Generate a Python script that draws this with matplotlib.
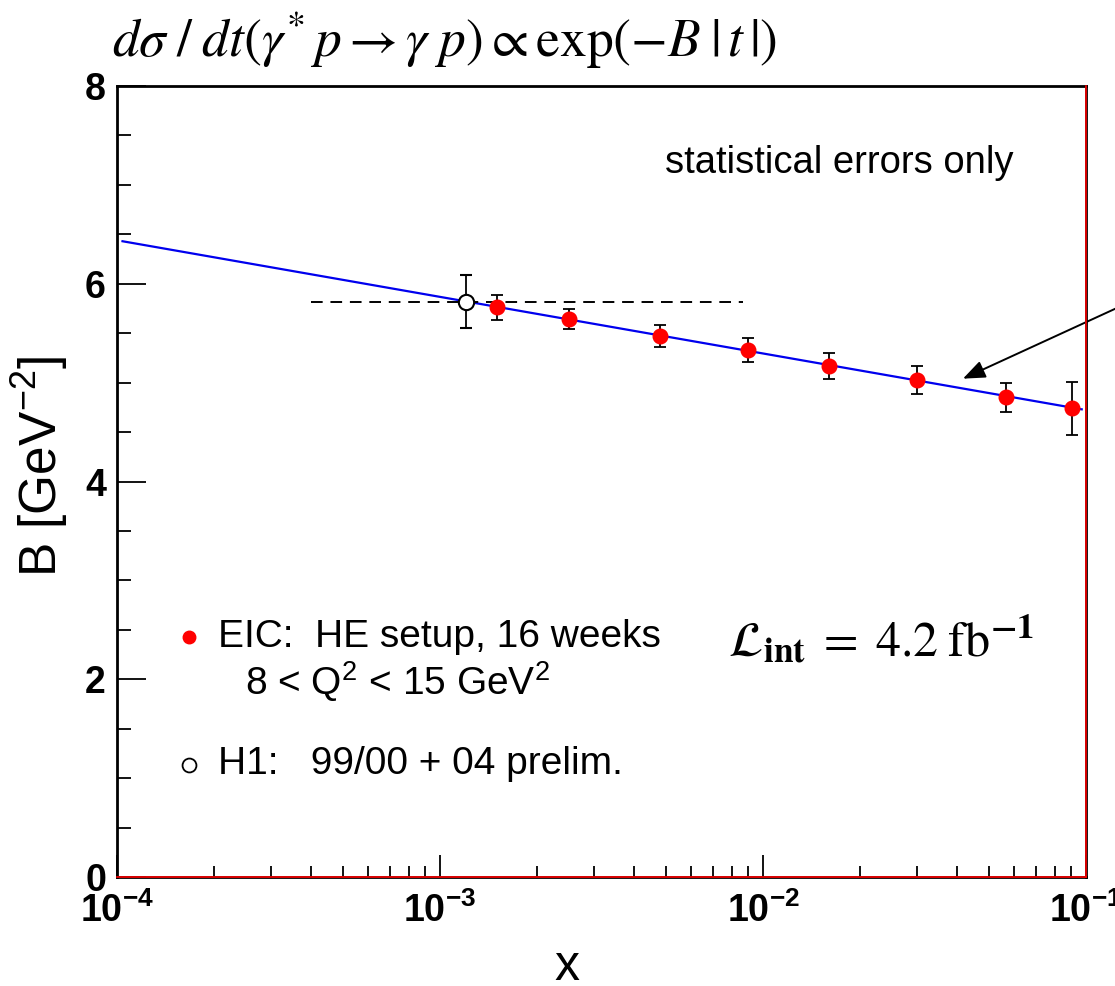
import matplotlib
matplotlib.use("Agg")
import matplotlib.pyplot as plt
from matplotlib.ticker import LogLocator, MultipleLocator, NullFormatter

# ---- data -----------------------------------------------------------------
eic_x = [1.5e-3, 2.5e-3, 4.8e-3, 9.0e-3, 1.6e-2, 3.0e-2, 5.65e-2, 9.05e-2]
eic_B = [5.76, 5.64, 5.47, 5.33, 5.17, 5.03, 4.85, 4.74]
eic_err = [0.13, 0.10, 0.11, 0.12, 0.13, 0.14, 0.15, 0.27]

h1_x = [1.2e-3]
h1_B = [5.82]
h1_err = [0.27]
h1_xrange = [4.0e-4, 8.7e-3]

fit_x = [1.04e-4, 9.7e-2]
fit_B = [6.43, 4.73]

arrow_tip = (4.16e-2, 5.04)

xtick_vals = [1e-4, 1e-3, 1e-2, 1e-1]
xtick_labels = [r"$\mathbf{10^{-4}}$", r"$\mathbf{10^{-3}}$",
                r"$\mathbf{10^{-2}}$", r"$\mathbf{10^{-1}}$"]
ytick_vals = [0, 2, 4, 6, 8]
ytick_labels = ["0", "2", "4", "6", "8"]

# ---- style ----------------------------------------------------------------
plt.rcParams["font.family"] = ["Liberation Sans", "DejaVu Sans"]
plt.rcParams["mathtext.fontset"] = "custom"
plt.rcParams["mathtext.rm"] = "Liberation Sans"
plt.rcParams["mathtext.it"] = "Liberation Sans:italic"
plt.rcParams["mathtext.bf"] = "Liberation Sans:bold"

W, H = 1115, 986
fig = plt.figure(figsize=(W / 100, H / 100), dpi=100)
ax = fig.add_axes([117 / W, 1 - 877 / H, (1086 - 117) / W, (877 - 86) / H])

ax.set_xscale("log")
ax.set_xlim(1e-4, 1e-1)
ax.set_ylim(0, 8)

# fit line
ax.plot(fit_x, fit_B, color="#0000ee", lw=1.6, zorder=2)

# H1 x-range
ax.plot(h1_xrange, [h1_B[0], h1_B[0]], color="black", lw=1.4,
        ls=(0, (6, 4)), zorder=2)

# H1 point
ax.errorbar(h1_x, h1_B, yerr=h1_err, fmt="o", ms=11, mfc="white",
            mec="black", mew=1.5, ecolor="black", elinewidth=1.3,
            capsize=4.5, capthick=1.3, zorder=4)

# EIC points
ax.errorbar(eic_x, eic_B, yerr=eic_err, fmt="o", ms=10.5, color="#ff0000",
            mec="#ff0000", ecolor="black", elinewidth=1.3, capsize=4.5,
            capthick=1.3, zorder=5)

# ticks
ax.set_xticks(xtick_vals, labels=xtick_labels)
ax.xaxis.set_minor_locator(LogLocator(base=10, subs=range(2, 10)))
ax.xaxis.set_minor_formatter(NullFormatter())
ax.set_yticks(ytick_vals, labels=ytick_labels)
ax.yaxis.set_minor_locator(MultipleLocator(0.5))
ax.tick_params(axis="both", which="both", direction="in", top=False,
               right=False, width=1.3, colors="black")
ax.tick_params(axis="y", which="major", length=21, pad=8, labelsize=27)
ax.tick_params(axis="y", which="minor", length=10)
ax.tick_params(axis="x", which="major", length=16, pad=11, labelsize=27)
ax.tick_params(axis="x", which="minor", length=8)
for lab in ax.get_yticklabels():
    lab.set_fontweight("bold")

for sp in ax.spines.values():
    sp.set_linewidth(2.0)
    sp.set_color("black")
ax.axhline(0, color="#ff0000", lw=1.2, zorder=10, clip_on=False)
ax.axvline(1e-1, color="#ff0000", lw=1.2, zorder=10, clip_on=False)

# axis titles
ax.set_xlabel("x", fontsize=36)
ax.xaxis.set_label_coords((567 - 117) / 969, (877 - 944) / 791)
ax.set_ylabel(r"B [GeV$^{-2}$]", fontsize=37)
ax.yaxis.set_label_coords((70 - 117) / 969, (877 - 466) / 791)

# headline formula
fig.text(445 / W, 1 - 40 / H,
         r"$d\sigma\;/\;dt(\gamma^{*}\,p\rightarrow\gamma\;p)\propto\mathrm{exp}(-B\;|\,t\,|)$",
         fontsize=38.5, math_fontfamily="stix", ha="center", va="center")

fig.text(665 / W, 1 - 163 / H, "statistical errors only", fontsize=27.5,
         ha="left", va="center")

# key
key_x = (189 - 117) / 969
ax.plot([key_x], [(877 - 637) / 791], "o", ms=9, color="#ff0000",
        transform=ax.transAxes, clip_on=False)
ax.plot([key_x], [(877 - 765) / 791], "o", ms=10, mfc="white", mec="black",
        mew=1.3, transform=ax.transAxes, clip_on=False)
fig.text(218 / W, 1 - 647 / H, "EIC:  HE setup, 16 weeks", fontsize=28,
         ha="left", va="baseline")
fig.text(245 / W, 1 - 695 / H, r"8 < Q$^2$ < 15 GeV$^2$", fontsize=28,
         ha="left", va="baseline")
fig.text(218 / W, 1 - 774 / H, "H1:   99/00 + 04 prelim.", fontsize=28,
         ha="left", va="baseline")

fig.text(728 / W, 1 - 640 / H,
         r"$\mathcal{L}_{\mathbf{int}}\;=\;4.2\;\mathrm{fb}^{\mathbf{-1}}$",
         fontsize=36, math_fontfamily="stix", ha="left", va="center")

# arrow pointing at the fit line
ax.annotate("", xy=arrow_tip, xycoords="data",
            xytext=(1180, H - 279), textcoords="figure pixels",
            arrowprops=dict(arrowstyle="-|>,head_length=0.75,head_width=0.3",
                            color="black", lw=1.4, mutation_scale=18,
                            shrinkA=0, shrinkB=0),
            annotation_clip=False)

fig.savefig("out.png", dpi=100)
